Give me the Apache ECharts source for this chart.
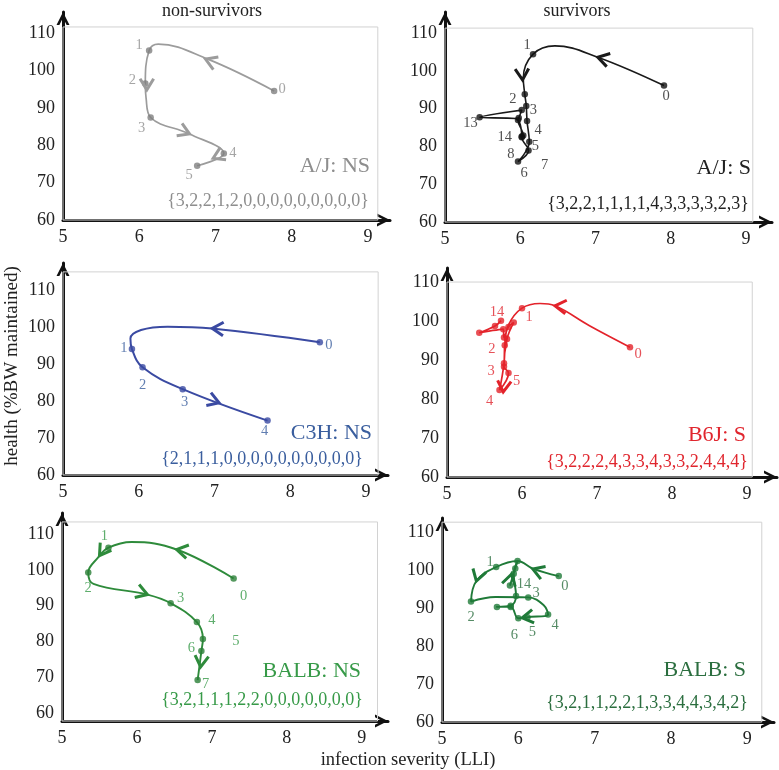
<!DOCTYPE html>
<html><head><meta charset="utf-8">
<script src="https://cdn.jsdelivr.net/npm/echarts@6/dist/echarts.min.js"></script>
<style>html,body{margin:0;padding:0;background:#fff;}#c{width:779px;height:770px;}</style>
</head><body><div id="c"></div>
<script>
// ---------------- data ----------------
var xTickValues = [5, 6, 7, 8, 9];
var yTickValues = [60, 70, 80, 90, 100, 110];
var columnTitles = ['non-survivors', 'survivors'];
var xAxisTitle = 'infection severity (LLI)';
var yAxisTitle = 'health (%BW maintained)';
var panelTitles = ['A/J: NS', 'A/J: S', 'C3H: NS', 'B6J: S', 'BALB: NS', 'BALB: S'];
var panelCounts = [
  '{3,2,2,1,2,0,0,0,0,0,0,0,0,0}',
  '{3,2,2,1,1,1,1,4,3,3,3,3,2,3}',
  '{2,1,1,1,0,0,0,0,0,0,0,0,0,0}',
  '{3,2,2,2,4,3,3,4,3,3,2,4,4,4}',
  '{3,2,1,1,1,2,2,0,0,0,0,0,0,0}',
  '{3,2,1,1,2,2,1,3,3,4,4,3,4,2}'
];

// A/J non-survivors
var ajNsPoints = [[7.77,94.5],[6.13,105.3],[6.08,96.5],[6.15,87.4],[7.11,77.8],[6.76,74.5]];
var ajNsCurve = [[7.77,94.5],[6.90,103.0],[6.25,107.0],[6.13,105.3],[6.08,96.5],[6.09,92.6],[6.15,87.4],[6.66,83.0],[7.11,77.8],[6.76,74.5]];
var ajNsArrows = [[6.87,103.0,6.5,106.0],[6.10,94.8,6.10,90.0],[6.66,83.0,7.0,80.0],[6.97,76.5,6.76,74.5]];

// A/J survivors
var ajSPoints = [[7.91,96.1],[6.17,104.4],[6.06,93.8],[6.08,90.7],[6.09,86.7],[6.12,81.2],[5.97,76.0],[6.11,78.9],[6.02,82.4],[6.04,82.9],[5.97,87.0],[5.98,87.5],[6.02,89.6],[5.46,87.7],[6.02,82.6]];
var ajSCurve = [[7.91,96.1],[7.03,103.6],[6.46,106.6],[6.17,104.4],[6.04,98.0],[6.06,93.8],[6.08,90.7],[6.09,86.7],[6.12,81.2],[5.97,76.0],[6.11,78.9],[6.02,82.4],[6.04,82.9],[5.97,87.0],[5.98,87.5],[6.02,89.6],[5.46,87.7],[5.94,87.4],[6.02,82.6]];
var ajSArrows = [[7.03,103.6,6.6,105.9],[6.03,97.6,6.04,94.0]];

// C3H non-survivors
var c3hNsPoints = [[8.39,95.9],[5.91,94.05],[6.05,89.1],[6.58,83.2],[7.70,74.7]];
var c3hNsCurve = [[8.39,95.9],[6.97,99.6],[6.38,100.1],[6.03,99.2],[5.89,96.9],[5.91,94.05],[6.05,89.1],[6.58,83.2],[7.70,74.7]];
var c3hNsArrows = [[6.97,99.6,6.5,100.1],[7.06,79.5,7.70,74.7]];

// B6J survivors
var b6jSPoints = [[7.44,93.3],[6.00,103.3],[5.77,93.8],[5.76,89.2],[5.70,82.3],[5.82,86.7],[5.76,88.3],[5.80,95.4],[5.89,99.6],[5.82,98.5],[5.76,95.8],[5.75,97.9],[5.43,97.0],[5.64,98.7],[5.72,100.1]];
var b6jSCurve = [[7.44,93.3],[6.90,98.8],[6.44,103.9],[6.24,104.5],[6.00,103.3],[5.82,99.0],[5.77,93.8],[5.76,89.2],[5.70,82.3],[5.82,86.7],[5.76,88.3],[5.80,95.4],[5.89,99.6],[5.82,98.5],[5.76,95.8],[5.75,97.9],[5.43,97.0],[5.64,98.7],[5.72,100.1]];
var b6jSArrows = [[6.44,103.9,6.2,104.4],[5.75,81.8,5.73,78.0]];

// BALB non-survivors
var balbNsPoints = [[7.29,97.6],[5.62,106.2],[5.35,99.3],[6.45,90.7],[6.80,85.4],[6.88,80.7],[6.86,77.3],[6.81,69.2]];
var balbNsCurve = [[7.29,97.6],[6.53,105.7],[5.93,107.8],[5.62,106.2],[5.48,103.4],[5.35,99.3],[5.42,96.1],[6.14,93.1],[6.45,90.7],[6.80,85.4],[6.88,80.7],[6.86,77.3],[6.81,69.2]];
var balbNsArrows = [[6.53,105.7,6.1,107.5],[5.50,104.0,5.40,101.0],[6.14,93.1,6.45,90.9],[6.85,72.9,6.83,69.0]];

// BALB survivors
var balbSPoints = [[6.53,98.4],[5.71,100.8],[5.38,91.7],[6.13,92.8],[6.39,88.3],[6.12,87.6],[6.00,87.3],[5.90,90.3],[5.72,90.3],[5.90,90.6],[5.97,93.2],[5.94,99.0],[5.99,102.4],[5.96,100.4],[5.89,95.9]];
var balbSCurve = [[6.53,98.4],[6.19,100.4],[5.99,102.4],[5.71,100.8],[5.45,97.1],[5.38,91.7],[5.70,92.9],[6.13,92.8],[6.33,90.8],[6.39,88.3],[6.12,87.6],[6.00,87.3],[5.90,90.3],[5.72,90.3],[5.90,90.6],[5.97,93.2],[5.94,99.0],[5.99,102.4],[5.96,100.4],[5.89,95.9]];
var balbSArrows = [[6.19,100.3,5.99,101.8],[5.45,97.1,5.39,93.0],[5.91,98.9,5.95,102.0],[6.05,87.4,5.95,87.1]];

var panels = [
  {points: ajNsPoints, curve: ajNsCurve, arrows: ajNsArrows},
  {points: ajSPoints, curve: ajSCurve, arrows: ajSArrows},
  {points: c3hNsPoints, curve: c3hNsCurve, arrows: c3hNsArrows},
  {points: b6jSPoints, curve: b6jSCurve, arrows: b6jSArrows},
  {points: balbNsPoints, curve: balbNsCurve, arrows: balbNsArrows},
  {points: balbSPoints, curve: balbSCurve, arrows: balbSArrows}
];

// ---------------- layout / style ----------------
var layout = [
  {grid:[63,12,327,208], x:[5,9.29], y:[60,115.6], frame:[9.13,111.6], line:'#9c9c9c', dot:'#808080', text:'#8e8e8e', lw:1.7,
   title:[370,166], counts:[369,201], labels:{0:[8,-2],1:[-10,-5],2:[-13,-3],3:[-9,11],4:[9,0],5:[-8,9]}},
  {grid:[445,12,327,210], x:[5,9.345], y:[60,115.56], frame:[9.09,111.3], line:'#1a1a1a', dot:'#111', text:'#222', lw:1.6,
   title:[751,168], counts:[749,204], labels:{0:[2,11],1:[-6,-9],2:[-12,5],3:[7,4],4:[11,9],5:[6,4],6:[6,12],7:[16,15],8:[-11,17],13:[-9,6],14:[-17,1]}},
  {grid:[63,263,325,212], x:[5,9.29], y:[60,117.3], frame:[9.16,114.9], line:'#3a4aa2', dot:'#3a4aa2', text:'#3a5e9e', lw:2,
   title:[372,433], counts:[363,459], labels:{0:[9,3],1:[-8,-1],2:[0,18],3:[2,13],4:[-3,11]}},
  {grid:[447,268,330,209], x:[5,9.4], y:[60,113.6], frame:[9.07,110.0], line:'#e3232b', dot:'#e3232b', text:'#e0262e', lw:1.7,
   title:[746,435], counts:[748,462], labels:{0:[8,7],1:[7,9],2:[-13,4],3:[-13,8],4:[-10,11],5:[8,8],14:[-4,-8]}},
  {grid:[62,513,326,208], x:[5,9.35], y:[57.76,115.9], frame:[9.21,113.4], line:'#2e8b3b', dot:'#2a7f37', text:'#379a48', lw:1.9,
   title:[361,671], counts:[363,700], labels:{0:[10,18],1:[-4,-12],2:[0,16],3:[10,-5],4:[15,-2],5:[33,2],6:[-10,-3],7:[8,4]}},
  {grid:[442,518,332,204], x:[5,9.35], y:[60,113.7], frame:[9.19,112.6], line:'#1f7a38', dot:'#1f7a38', text:'#2b6e3f', lw:1.9,
   title:[746,670], counts:[748,703], labels:{0:[6,10],1:[-6,-5],2:[0,16],3:[8,-4],4:[7,11],5:[5,15],6:[-4,17],14:[14,-1]}}
];

var serif = '"Liberation Serif", "DejaVu Serif", serif';
var chevron = 'path://M0,10 L5,0 L10,10 L7.8,10 L5,4.4 L2.2,10 Z';

var grids = [], xAxes = [], yAxes = [], series = [], graphics = [];

panels.forEach(function (p, i) {
  var L = layout[i];
  grids.push({left: L.grid[0], top: L.grid[1], width: L.grid[2], height: L.grid[3], show: false, containLabel: false});
  var axisLine = {show: true, onZero: false, lineStyle: {color: '#111', width: 3},
                  symbol: ['none', chevron], symbolSize: [17, 13], symbolOffset: [0, -6.5]};
  xAxes.push({gridIndex: i, type: 'value', min: L.x[0], max: L.x[1], axisLine: axisLine,
    axisTick: {show: false}, splitLine: {show: false},
    axisLabel: {customValues: xTickValues, fontFamily: serif, fontSize: 18, color: '#222', margin: 8}});
  yAxes.push({gridIndex: i, type: 'value', min: L.y[0], max: L.y[1], axisLine: axisLine,
    axisTick: {show: false}, splitLine: {show: false},
    axisLabel: {customValues: yTickValues, fontFamily: serif, fontSize: 18, color: '#222', margin: 8}});

  series.push({type: 'line', xAxisIndex: i, yAxisIndex: i, data: p.curve, smooth: 0.4,
    symbol: 'none', silent: true, z: 2, animation: false,
    lineStyle: {color: L.line, width: L.lw},
    markArea: {silent: true, itemStyle: {color: 'rgba(0,0,0,0)', borderColor: '#d2d2d2', borderWidth: 1},
      data: [[{coord: [L.x[0], L.y[0]]}, {coord: [L.frame[0], L.frame[1]]}]]}});

  series.push({type: 'scatter', xAxisIndex: i, yAxisIndex: i, symbolSize: 6.5, z: 3, silent: true, animation: false,
    itemStyle: {color: L.dot},
    label: {show: false, position: 'inside', fontFamily: serif, fontSize: 14.5, color: L.text},
    data: p.points.map(function (pt, k) {
      var off = L.labels[k];
      return {value: pt, label: off ? {show: true, formatter: String(k), offset: off} : {show: false}};
    })});

  series.push({type: 'custom', xAxisIndex: i, yAxisIndex: i, data: p.arrows, z: 4, silent: true, clip: false, animation: false,
    encode: {x: [0, 2], y: [1, 3]},
    renderItem: function (params, api) {
      var a = api.coord([api.value(0), api.value(1)]);
      var b = api.coord([api.value(2), api.value(3)]);
      var ang = Math.atan2(b[1] - a[1], b[0] - a[0]);
      var len = 13, spread = 0.55;
      var p1 = [a[0] - len * Math.cos(ang - spread), a[1] - len * Math.sin(ang - spread)];
      var p2 = [a[0] - len * Math.cos(ang + spread), a[1] - len * Math.sin(ang + spread)];
      return {type: 'polyline', shape: {points: [p1, a, p2]},
        style: {stroke: L.line, lineWidth: 3, fill: null, lineJoin: 'miter'}};
    }});

  graphics.push({type: 'text', silent: true, style: {text: panelTitles[i], x: L.title[0], y: L.title[1],
    align: 'right', verticalAlign: 'middle', fontFamily: serif, fontSize: 22, fill: L.text}});
  graphics.push({type: 'text', silent: true, style: {text: panelCounts[i], x: L.counts[0], y: L.counts[1],
    align: 'right', verticalAlign: 'middle', fontFamily: serif, fontSize: 18, fill: L.text}});
});

graphics.push({type: 'text', silent: true, style: {text: columnTitles[0], x: 212, y: 11, align: 'center', verticalAlign: 'middle', fontFamily: serif, fontSize: 18, fill: '#222'}});
graphics.push({type: 'text', silent: true, style: {text: columnTitles[1], x: 577, y: 11, align: 'center', verticalAlign: 'middle', fontFamily: serif, fontSize: 18, fill: '#222'}});
graphics.push({type: 'text', silent: true, style: {text: xAxisTitle, x: 408, y: 760, align: 'center', verticalAlign: 'middle', fontFamily: serif, fontSize: 18.5, fill: '#222'}});
graphics.push({type: 'text', silent: true, x: 12, y: 366, rotation: Math.PI / 2,
  style: {text: yAxisTitle, x: 0, y: 0, align: 'center', verticalAlign: 'middle', fontFamily: serif, fontSize: 19, fill: '#222'}});

var chart = echarts.init(document.getElementById('c'), null, {renderer: 'canvas', width: 779, height: 770});
chart.setOption({
  backgroundColor: '#fff',
  animation: false,
  grid: grids, xAxis: xAxes, yAxis: yAxes, series: series, graphic: graphics
});
</script>
</body></html>
